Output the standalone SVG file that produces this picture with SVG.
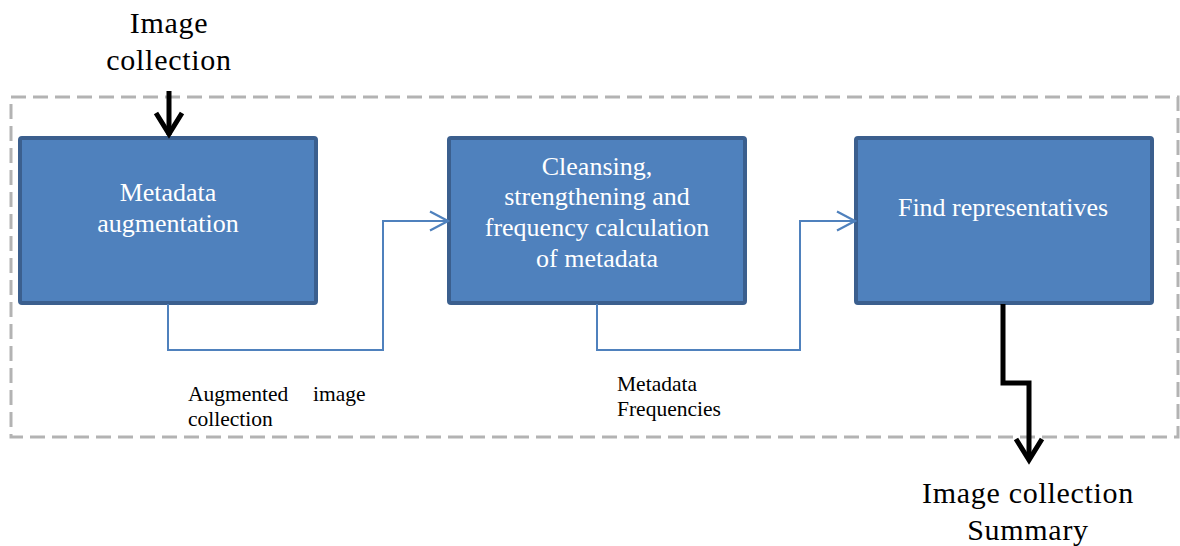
<svg xmlns="http://www.w3.org/2000/svg" width="1180" height="546" viewBox="0 0 1180 546">
  <style>
    .box { fill: #4f81bd; stroke: #3b5f8e; stroke-width: 4; }
    .boxtext { font-family: "Liberation Serif", "Times New Roman", serif; font-size: 26px; fill: #ffffff; text-anchor: middle; }
    .outer { font-family: "Liberation Serif", "Times New Roman", serif; font-size: 30px; letter-spacing: 0.7px; fill: #000000; text-anchor: middle; }
    .small { font-family: "Liberation Serif", "Times New Roman", serif; font-size: 21.5px; fill: #000000; }
    .flow { fill: none; stroke: #4f81bd; stroke-width: 2; }
    .io { fill: none; stroke: #000000; stroke-width: 5; stroke-linejoin: miter; }
  </style>
  <defs>
    <marker id="openBlue" viewBox="0 0 22 22" refX="20" refY="11" markerWidth="22" markerHeight="22" markerUnits="userSpaceOnUse" orient="auto">
      <path d="M2,1.5 L20,11 L2,20.5" fill="none" stroke="#4f81bd" stroke-width="2.2"/>
    </marker>
  </defs>
  <rect width="1180" height="546" fill="#ffffff"/>

  <!-- system boundary -->
  <rect x="11" y="97" width="1167" height="340" fill="none" stroke="#b3b3b3" stroke-width="3" stroke-dasharray="15 7"/>

  <g id="node-augmentation">
    <rect class="box" x="20" y="138" width="296" height="165" rx="2"/>
    <text class="boxtext" x="168" y="201">Metadata</text>
    <text class="boxtext" x="168" y="232">augmentation</text>
  </g>

  <g id="node-cleansing">
    <rect class="box" x="449" y="138" width="296" height="165" rx="2"/>
    <text class="boxtext" x="597" y="175">Cleansing,</text>
    <text class="boxtext" x="597" y="205">strengthening and</text>
    <text class="boxtext" x="597" y="236">frequency calculation</text>
    <text class="boxtext" x="597" y="267">of metadata</text>
  </g>

  <g id="node-representatives">
    <rect class="box" x="856" y="138" width="296" height="165" rx="2"/>
    <text class="boxtext" x="1003" y="216">Find representatives</text>
  </g>

  <g id="connectors">
    <!-- input -->
    <path class="io" d="M169,91 V135"/>
    <path d="M156,113 L169,134 L182,113" fill="none" stroke="#000" stroke-width="5"/>
    <!-- internal flows -->
    <path class="flow" d="M168,304 V350 H383 V221 H448" marker-end="url(#openBlue)"/>
    <path class="flow" d="M597,304 V350 H800 V221 H855" marker-end="url(#openBlue)"/>
    <!-- output -->
    <path class="io" d="M1003,304 V383 H1029 V460"/>
    <path d="M1016,439 L1029,460 L1042,439" fill="none" stroke="#000" stroke-width="5"/>
  </g>

  <g id="labels">
    <text class="outer" x="169" y="33">Image</text>
    <text class="outer" x="169" y="70">collection</text>
    <text class="outer" x="1028" y="503">Image collection</text>
    <text class="outer" x="1028" y="540">Summary</text>
    <text class="small" x="188" y="401">Augmented</text>
    <text class="small" x="313" y="401">image</text>
    <text class="small" x="188" y="426">collection</text>
    <text class="small" x="617" y="391">Metadata</text>
    <text class="small" x="617" y="416">Frequencies</text>
  </g>
</svg>
